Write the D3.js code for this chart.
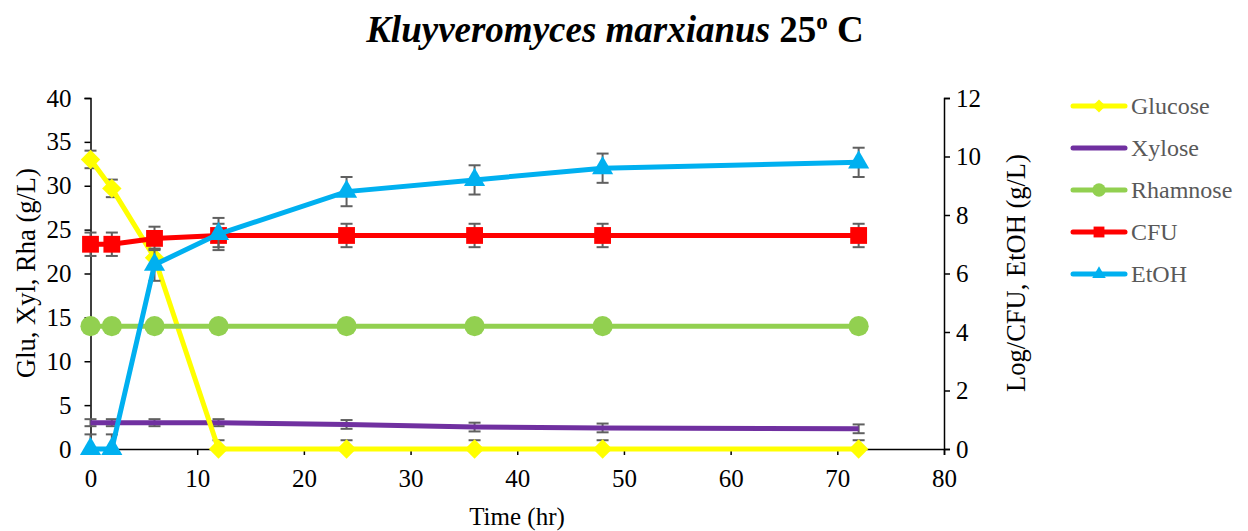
<!DOCTYPE html>
<html>
<head>
<meta charset="utf-8">
<script src="https://cdn.jsdelivr.net/npm/d3@7"></script>
<style>
  body { margin: 0; background: #fff; }
  svg { font-family: "Liberation Serif", "Times New Roman", serif; }
</style>
</head>
<body>
<svg id="chart" width="1248" height="531"></svg>
<script>
// time points (hr)
var hours = [0, 2, 6, 12, 24, 36, 48, 72];

// left axis series (g/L)
var glucose  = [33, 29.7, 21.8, 0, 0, 0, 0, 0];
var glucoseErr = [1, 1, 1, 1, 1, 1, 1, 1];
var xylose   = [3.0, 3.0, 3.0, 3.0, 2.8, 2.5, 2.4, 2.3];
var xyloseErr = [0.4, 0.4, 0.4, 0.4, 0.5, 0.5, 0.5, 0.5];
var rhamnose = [14, 14, 14, 14, 14, 14, 14, 14];

// right axis series
var cfu  = [7.0, 7.0, 7.2, 7.3, 7.3, 7.3, 7.3, 7.3];
var cfuErr = [0.4, 0.4, 0.4, 0.4, 0.4, 0.4, 0.4, 0.4];
var etoh = [0, 0, 6.3, 7.35, 8.8, 9.2, 9.6, 9.8];
var etohErr = [0.5, 0.5, 0.55, 0.55, 0.5, 0.5, 0.5, 0.5];

var xTicks = [0, 10, 20, 30, 40, 50, 60, 70, 80];
var leftTicks = [0, 5, 10, 15, 20, 25, 30, 35, 40];
var rightTicks = [0, 2, 4, 6, 8, 10, 12];

var svg = d3.select("#chart");

var x = d3.scaleLinear().domain([0, 80]).range([90.5, 944]);
var yL = d3.scaleLinear().domain([0, 40]).range([449, 98]);
var yR = d3.scaleLinear().domain([0, 12]).range([449, 98]);

// axes
var xAxis = svg.append("g")
    .attr("transform", "translate(0,449)")
    .call(d3.axisBottom(x).tickValues(xTicks).tickSize(6).tickPadding(14));
var lAxis = svg.append("g")
    .attr("transform", "translate(90.5,0)")
    .call(d3.axisLeft(yL).tickValues(leftTicks).tickSize(6).tickPadding(13));
var rAxis = svg.append("g")
    .attr("transform", "translate(944,0)")
    .call(d3.axisRight(yR).tickValues(rightTicks).tickSize(6).tickPadding(6));

[xAxis, lAxis, rAxis].forEach(function(a){
  a.attr("font-family", "Liberation Serif").attr("font-size", 25);
  a.select(".domain").attr("stroke", "#000").attr("stroke-width", 1.5);
  a.selectAll(".tick line").attr("stroke", "#000").attr("stroke-width", 1.5);
  a.selectAll(".tick text").attr("fill", "#000");
});

// title
var title = svg.append("text")
    .attr("x", 615)
    .attr("y", 42)
    .attr("text-anchor", "middle")
    .attr("font-size", 37)
    .attr("font-weight", "bold")
    .attr("fill", "#000");
title.append("tspan").attr("font-style", "italic").text("Kluyveromyces marxianus");
title.append("tspan").text(" 25");
title.append("tspan").attr("dy", -13).attr("font-size", 23).text("o");
title.append("tspan").attr("dy", 13).text(" C");

// axis titles
svg.append("text")
    .attr("transform", "translate(35,273) rotate(-90)")
    .attr("text-anchor", "middle")
    .attr("font-size", 26.5)
    .text("Glu, Xyl, Rha (g/L)");
svg.append("text")
    .attr("transform", "translate(1025,273) rotate(-90)")
    .attr("text-anchor", "middle")
    .attr("font-size", 26.5)
    .text("Log/CFU, EtOH (g/L)");
svg.append("text")
    .attr("x", 517)
    .attr("y", 525)
    .attr("text-anchor", "middle")
    .attr("font-size", 25)
    .text("Time (hr)");

var plot = svg.append("g");

function errorBars(vals, errs, y) {
  var g = plot.append("g").attr("stroke", "#606060").attr("stroke-width", 2);
  hours.forEach(function(h, i){
    var cx = x(h), t = y(vals[i] + errs[i]), b = y(vals[i] - errs[i]);
    var below = vals[i] - errs[i] >= 0;
    if (!below) b = y(vals[i]);
    g.append("line").attr("x1", cx).attr("x2", cx).attr("y1", t).attr("y2", b);
    g.append("line").attr("x1", cx - 6).attr("x2", cx + 6).attr("y1", t).attr("y2", t);
    if (below)
      g.append("line").attr("x1", cx - 6).attr("x2", cx + 6).attr("y1", b).attr("y2", b);
  });
}

function series(vals, y, color, shape, size) {
  var line = d3.line()
      .x(function(d, i){ return x(hours[i]); })
      .y(function(d){ return y(d); });
  plot.append("path")
      .datum(vals)
      .attr("d", line)
      .attr("fill", "none")
      .attr("stroke", color)
      .attr("stroke-width", 5);
  if (shape) {
    plot.append("g").selectAll("path")
      .data(vals)
      .enter()
      .append("path")
        .attr("transform", function(d, i){ return "translate(" + x(hours[i]) + "," + y(d) + ")"; })
        .attr("d", d3.symbol().type(shape).size(size))
        .attr("fill", color);
  }
}

// draw order: error bars under their markers
errorBars(xylose, xyloseErr, yL);
series(xylose, yL, "#7030a0", null, 0);
errorBars(glucose, glucoseErr, yL);
series(glucose, yL, "#ffff00", d3.symbolDiamond2, 240);
series(rhamnose, yL, "#92d050", d3.symbolCircle, 320);
errorBars(cfu, cfuErr, yR);
series(cfu, yR, "#ff0000", d3.symbolSquare2, 360);
errorBars(etoh, etohErr, yR);
series(etoh, yR, "#00b0f0", d3.symbolTriangle2, 320);

// legend
var legendNames = ["Glucose", "Xylose", "Rhamnose", "CFU", "EtOH"];
var legendColors = ["#ffff00", "#7030a0", "#92d050", "#ff0000", "#00b0f0"];
var legendShapes = [d3.symbolDiamond2, null, d3.symbolCircle, d3.symbolSquare2, d3.symbolTriangle2];
var legendSizes = [110, 0, 140, 150, 130];
var legY = d3.scalePoint().domain(legendNames).range([106, 274]);

var leg = svg.append("g");
legendNames.forEach(function(n, i){
  var yy = legY(n);
  leg.append("line")
      .attr("x1", 1073).attr("x2", 1125).attr("y1", yy).attr("y2", yy)
      .attr("stroke", legendColors[i]).attr("stroke-width", 5)
      .attr("stroke-linecap", "round");
  if (legendShapes[i]) {
    leg.append("path")
        .attr("transform", "translate(1099," + yy + ")")
        .attr("d", d3.symbol().type(legendShapes[i]).size(legendSizes[i]))
        .attr("fill", legendColors[i]);
  }
  leg.append("text")
      .attr("x", 1131).attr("y", yy + 8)
      .attr("font-size", 24)
      .attr("fill", "#595959")
      .text(n);
});
</script>
</body>
</html>
